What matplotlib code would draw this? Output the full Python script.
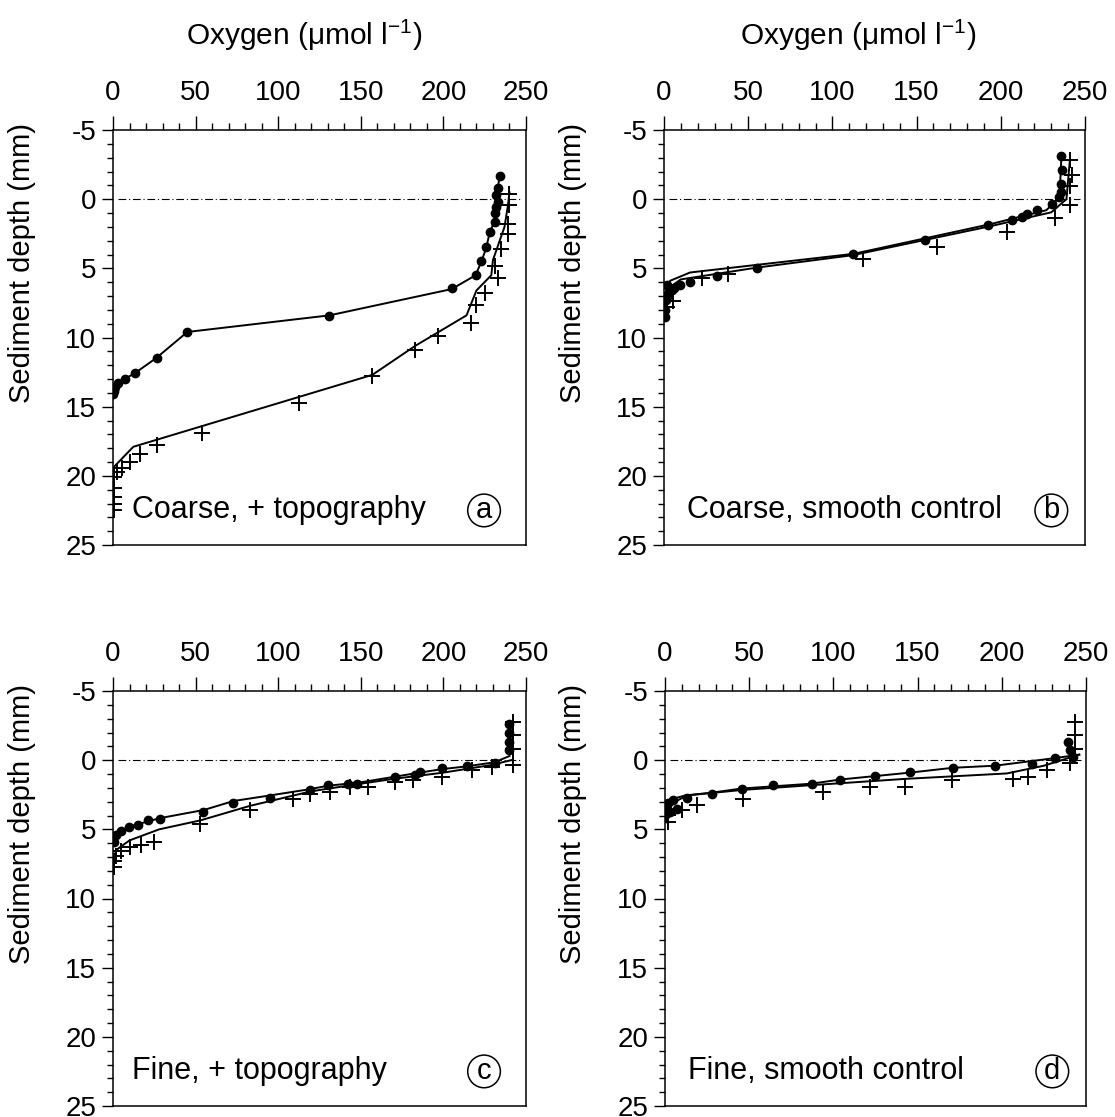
import numpy as np
import matplotlib.pyplot as plt
from matplotlib.ticker import MultipleLocator

plt.rcParams['font.family'] = ['Liberation Sans', 'DejaVu Sans']
plt.rcParams['mathtext.fontset'] = 'custom'
plt.rcParams['mathtext.rm'] = 'Liberation Sans'
plt.rcParams['mathtext.it'] = 'Liberation Sans:italic'
plt.rcParams['axes.unicode_minus'] = False

# ---- panel a: coarse, + topography ----
a_dot_o2 = [234, 233, 232, 233, 232, 231, 231, 228, 226, 223, 219.5, 205.5, 131, 45, 26.4, 13.3, 7.3, 3, 1.2, 0.3, 0.5]
a_dot_z = [-1.66, -0.8, -0.3, 0.2, 0.6, 1.0, 1.64, 2.36, 3.45, 4.5, 5.5, 6.45, 8.44, 9.57, 11.5, 12.56, 13.0, 13.3, 13.6, 14.1, 13.9]
a_crs_o2 = [240, 239.5, 239, 239, 235, 231, 233, 225, 220, 217, 197, 183, 157, 112.6, 53.7, 26.4, 16.3, 10.3, 5.3, 2.2, 0.4, 0.4, 0.4, 0.4, 0.4]
a_crs_z = [-0.4, 0.45, 1.8, 2.5, 3.6, 4.85, 5.7, 6.8, 7.66, 8.97, 9.9, 10.9, 12.8, 14.7, 16.9, 17.8, 18.4, 19.0, 19.4, 19.7, 20.1, 20.9, 21.5, 22.0, 22.5]
a_fit1_o2 = [234, 232, 231, 228, 226, 223, 219.5, 205, 131, 45, 26, 13, 7, 2, 0]
a_fit1_z = [-1.66, 0, 1.6, 2.4, 3.5, 4.5, 5.5, 6.5, 8.4, 9.6, 11.5, 12.6, 13.0, 13.6, 14.2]
a_fit2_o2 = [240, 239, 237, 230, 229, 220, 214, 183, 157, 12.3, 0.2, 0.2]
a_fit2_z = [-0.5, 0.5, 2.0, 4.4, 5.5, 6.6, 8.4, 10.6, 12.7, 17.9, 19.4, 20.2]

# ---- panel b: coarse, smooth control ----
b_dot_o2 = [235.6, 236.1, 235.6, 235.6, 234.8, 230.2, 221.3, 215.4, 212.4, 206.4, 192.6, 155, 112.4, 55, 31.3,
            15.4, 9.5, 4.6, 1.6, 0.6, 0.6, 6, 3, 1, 2]
b_dot_z = [-3.1, -2.14, -1.13, -0.53, -0.17, 0.36, 0.75, 1.04, 1.28, 1.52, 1.88, 2.96, 3.98, 4.96, 5.57,
           5.98, 6.2, 6.58, 7.06, 8.0, 8.5, 6.4, 6.8, 7.3, 6.2]
b_crs_o2 = [241.1, 242.1, 241.1, 241.1, 232.2, 203.5, 161.9, 118.4, 38.2, 22.4, 2.6, 5.5, 1.5]
b_crs_z = [-2.82, -1.78, -0.94, 0.43, 1.33, 2.36, 3.45, 4.29, 5.4, 5.7, 6.8, 7.35, 7.8]
b_fit1_o2 = [236, 235, 233, 227, 194, 112.7, 55, 15.5, 3.6, 0.6, 0.6]
b_fit1_z = [-3.1, -0.5, 0.1, 0.8, 1.8, 3.95, 4.75, 5.3, 5.9, 6.8, 8.4]
b_fit2_o2 = [241, 239, 230, 194, 112, 55, 10, 3, 0.6]
b_fit2_z = [-2.8, 0.0, 0.95, 1.95, 4.05, 4.95, 5.8, 6.4, 7.5]

# ---- panel c: fine, + topography ----
c_dot_o2 = [240, 240, 240, 240, 231.2, 214, 199, 185.8, 182.8, 170.7, 147.5, 142.5, 130.3, 119.2, 95, 72.8,
            54.7, 28.5, 21.4, 15.3, 9.9, 5, 2, 0.5]
c_dot_z = [-2.65, -2.0, -1.3, -0.72, 0.24, 0.43, 0.6, 0.84, 1.04, 1.2, 1.69, 1.69, 1.8, 2.17, 2.72, 3.13,
           3.73, 4.27, 4.34, 4.7, 4.82, 5.1, 5.4, 5.9]
c_crs_o2 = [242.3, 242.3, 242.3, 242.3, 229.2, 217.1, 199, 181.8, 170.7, 154.6, 143.5, 131.4, 119.2, 109.2,
            83, 52.7, 25, 17, 10, 5, 2, 0.5, 0.5]
c_crs_z = [-2.77, -1.81, -0.84, 0.36, 0.48, 0.72, 1.2, 1.45, 1.57, 1.93, 1.93, 2.29, 2.46, 2.84,
           3.61, 4.58, 5.9, 6.1, 6.3, 6.6, 6.9, 7.3, 7.7]
c_fit1_o2 = [240, 231, 214, 199, 183, 150, 130, 119, 95, 73, 55, 28, 10, 2, 0]
c_fit1_z = [-0.3, 0.15, 0.45, 0.65, 0.95, 1.6, 1.85, 2.1, 2.55, 2.95, 3.6, 4.2, 4.8, 5.4, 6.0]
c_fit2_o2 = [241, 229, 200, 170, 150, 120, 83, 53, 28, 10, 3, 0]
c_fit2_z = [0.0, 0.35, 0.9, 1.35, 1.7, 2.25, 3.3, 4.35, 5.0, 5.8, 6.4, 7.0]

# ---- panel d: fine, smooth control ----
d_dot_o2 = [239.5, 240.5, 242.5, 231.6, 217.7, 196, 171.2, 145.5, 124.7, 103.9, 87.1, 64.3, 45.5, 27.7,
            12.9, 5, 2, 1, 3, 7, 0.6]
d_dot_z = [-1.33, -0.72, -0.24, -0.19, 0.29, 0.43, 0.6, 0.84, 1.16, 1.45, 1.73, 1.81, 2.12, 2.41,
           2.77, 2.9, 3.13, 3.5, 3.73, 3.5, 3.86]
d_crs_o2 = [243.5, 243.5, 243.5, 240.5, 226.6, 215.8, 206.8, 170.2, 142.5, 121.7, 94, 46.5, 18.8, 10, 2, 2]
d_crs_z = [-2.77, -1.81, -0.84, 0.24, 0.72, 1.2, 1.33, 1.45, 1.93, 1.93, 2.29, 2.84, 3.25, 3.6, 3.98, 4.46]
d_fit1_o2 = [246, 231.6, 196, 171, 145.5, 104, 87, 45.5, 27.7, 12, 3, 0]
d_fit1_z = [-0.4, -0.15, 0.4, 0.55, 0.9, 1.4, 1.7, 2.05, 2.35, 2.55, 2.85, 3.3]
d_fit2_o2 = [246, 225, 203, 143, 94, 46, 13, 3, 1, 0.5]
d_fit2_z = [-0.4, 0.4, 0.96, 1.35, 1.75, 2.15, 2.55, 3.2, 4.0, 4.5]

panel_text = ['Coarse, + topography', 'Coarse, smooth control', 'Fine, + topography', 'Fine, smooth control']
panel_letter = ['a', 'b', 'c', 'd']

W, H = 1115, 1117
fig = plt.figure(figsize=(W / 100, H / 100), dpi=100)

# axes boxes in pixels: left, top, right, bottom
boxes = [(113, 130, 526, 545), (664, 130, 1085, 545), (113, 691, 526, 1106), (665, 691, 1086, 1106)]

panels = [
    (a_dot_o2, a_dot_z, a_crs_o2, a_crs_z, a_fit1_o2, a_fit1_z, a_fit2_o2, a_fit2_z),
    (b_dot_o2, b_dot_z, b_crs_o2, b_crs_z, b_fit1_o2, b_fit1_z, b_fit2_o2, b_fit2_z),
    (c_dot_o2, c_dot_z, c_crs_o2, c_crs_z, c_fit1_o2, c_fit1_z, c_fit2_o2, c_fit2_z),
    (d_dot_o2, d_dot_z, d_crs_o2, d_crs_z, d_fit1_o2, d_fit1_z, d_fit2_o2, d_fit2_z),
]

for i, (box, data) in enumerate(zip(boxes, panels)):
    l, t, r, b = box
    ax = fig.add_axes([l / W, 1 - b / H, (r - l) / W, (b - t) / H])
    dx, dz, cx, cz, f1x, f1z, f2x, f2z = data

    ax.plot(f1x, f1z, color='k', lw=1.4, zorder=2)
    ax.plot(f2x, f2z, color='k', lw=1.4, zorder=2)
    ax.plot(dx, dz, 'o', color='k', ms=6, zorder=3)
    ax.plot(cx, cz, '+', color='k', ms=11, mew=1.4, zorder=3)
    ax.plot([3, 247], [0, 0], color='k', lw=0.8, ls=(0, (7, 2.5, 1, 2.5)), zorder=1)

    ax.set_xlim(0, 250)
    ax.set_ylim(25, -5)
    ax.xaxis.tick_top()
    ax.xaxis.set_major_locator(MultipleLocator(50))
    ax.xaxis.set_minor_locator(MultipleLocator(10))
    ax.yaxis.set_major_locator(MultipleLocator(5))
    ax.yaxis.set_minor_locator(MultipleLocator(1))
    ax.tick_params(axis='x', which='major', direction='out', length=10, width=1.0, pad=7, labelsize=20)
    ax.tick_params(axis='x', which='minor', direction='out', length=5, width=1.0)
    ax.tick_params(axis='y', which='major', direction='out', length=8, width=1.0, pad=4, labelsize=20)
    ax.tick_params(axis='y', which='minor', direction='out', length=4.5, width=1.0)
    for s in ax.spines.values():
        s.set_linewidth(1.1)

    ax.set_ylabel('Sediment depth (mm)', fontsize=21)
    ax.yaxis.set_label_coords(-(l - (36 if i % 2 == 0 else 587)) / (r - l), 0.68)

    if i < 2:
        ax.text(0.462, 1.229, 'Oxygen (μmol l$^{-1}$)', transform=ax.transAxes,
                ha='center', va='center', fontsize=21.5)

    tx = 11.3 if i % 2 == 0 else 13.5
    lx = 224.6 if i % 2 == 0 else 230
    ax.text(tx, 22.5, panel_text[i], ha='left', va='center', fontsize=22)
    ax.text(lx, 22.5, panel_letter[i], ha='center', va='center', fontsize=21,
            bbox=dict(boxstyle='circle,pad=0.08', fc='none', ec='k', lw=1.1))

fig.savefig('out.png', dpi=100)
